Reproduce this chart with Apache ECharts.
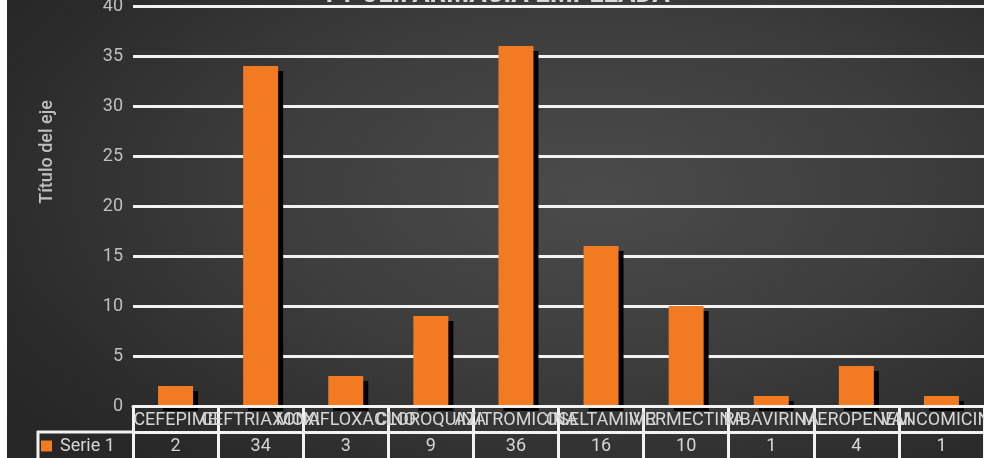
<!DOCTYPE html>
<html>
<head>
<meta charset="utf-8">
<script src="https://cdn.jsdelivr.net/npm/echarts@6/dist/echarts.min.js"></script>
<style>
  html, body { margin: 0; padding: 0; background: #ffffff; overflow: hidden; }
  #chart {
    position: absolute; left: 7px; top: 0; width: 977px; height: 458px;
    background: radial-gradient(ellipse 75% 85% at 60% 42%, #4b4b4b 0%, #3d3d3d 45%, #2a2a2a 85%, #262626 100%);
  }
</style>
</head>
<body>
<div id="chart"></div>
<script>
// Medicamentos y número de pacientes
const categories = ['CEFEPIME', 'CEFTRIAXONA', 'MOXIFLOXACINO', 'CLOROQUINA', 'AZITROMICINA',
                    'OSELTAMIVIR', 'IVERMECTINA', 'RIBAVIRINA', 'MEROPENEM', 'VANCOMICINA'];
const serie1 = [2, 34, 3, 9, 36, 16, 10, 1, 4, 1];
const serieName = 'Serie 1';
const yTicks = { min: 0, max: 40, interval: 5 };

const gridWhite = '#f2f2f2';
const textGray = '#bfbfbf';
const cellText = '#d6d6d6';
const orange = '#f27b21';

const chart = echarts.init(document.getElementById('chart'), null, { renderer: 'canvas' });

chart.setOption({
  backgroundColor: 'transparent',
  animation: false,
  textStyle: { fontFamily: 'Roboto' },
  title: {
    text: 'Y POLIFARMACIA EMPLEADA',
    left: 'center',
    top: -23,
    textStyle: { color: '#d9d9d9', fontSize: 26, fontWeight: 'bold', fontFamily: 'Roboto' }
  },
  legend: {
    data: [serieName],
    left: 34,
    top: 437,
    icon: 'rect',
    itemWidth: 11,
    itemHeight: 11,
    itemGap: 0,
    padding: 0,
    textStyle: { color: cellText, fontSize: 18, fontFamily: 'Roboto', padding: [0, 0, 0, 3] }
  },
  grid: { left: 126, right: 0, top: 6, bottom: 52, containLabel: false, outerBoundsMode: 'none' },
  xAxis: [
    {
      type: 'category',
      data: categories,
      position: 'bottom',
      boundaryGap: true,
      axisLine: { show: true, lineStyle: { color: gridWhite, width: 3 } },
      axisTick: { show: true, length: 56, lineStyle: { color: gridWhite, width: 3 } },
      axisLabel: {
        interval: 0, margin: 5, color: cellText, fontSize: 18,
        fontFamily: 'Roboto', hideOverlap: false
      },
      z: 5
    },
    {
      type: 'category',
      data: categories,
      position: 'bottom',
      offset: 26,
      boundaryGap: true,
      axisLine: { show: true, lineStyle: { color: gridWhite, width: 3 } },
      axisTick: { show: false },
      axisLabel: {
        interval: 0, margin: 5, color: cellText, fontSize: 18, fontFamily: 'Roboto',
        formatter: (v, i) => String(serie1[i])
      },
      z: 5
    }
  ],
  yAxis: {
    type: 'value',
    min: yTicks.min,
    max: yTicks.max,
    interval: yTicks.interval,
    axisLine: { show: false },
    axisTick: { show: false },
    axisLabel: { color: textGray, fontSize: 18, margin: 10, fontFamily: 'Roboto' },
    splitLine: { show: true, lineStyle: { color: gridWhite, width: 3 } }
  },
  graphic: [
    {
      type: 'text',
      x: 40, y: 152,
      rotation: Math.PI / 2,
      style: {
        text: 'Título del eje',
        fill: textGray,
        font: '500 18px Roboto',
        align: 'center',
        verticalAlign: 'middle'
      }
    },
    {
      type: 'line',
      shape: { x1: 30, y1: 432, x2: 127, y2: 432 },
      style: { stroke: gridWhite, lineWidth: 3 },
      z: 10
    },
    {
      type: 'line',
      shape: { x1: 31, y1: 431, x2: 31, y2: 460 },
      style: { stroke: gridWhite, lineWidth: 3 },
      z: 10
    }
  ],
  series: [
    {
      name: serieName,
      type: 'bar',
      data: serie1,
      xAxisIndex: 0,
      barWidth: 35,
      itemStyle: {
        color: orange,
        shadowColor: '#000000',
        shadowBlur: 0,
        shadowOffsetX: 5,
        shadowOffsetY: 5
      },
      z: 2
    }
  ]
});
</script>
</body>
</html>
